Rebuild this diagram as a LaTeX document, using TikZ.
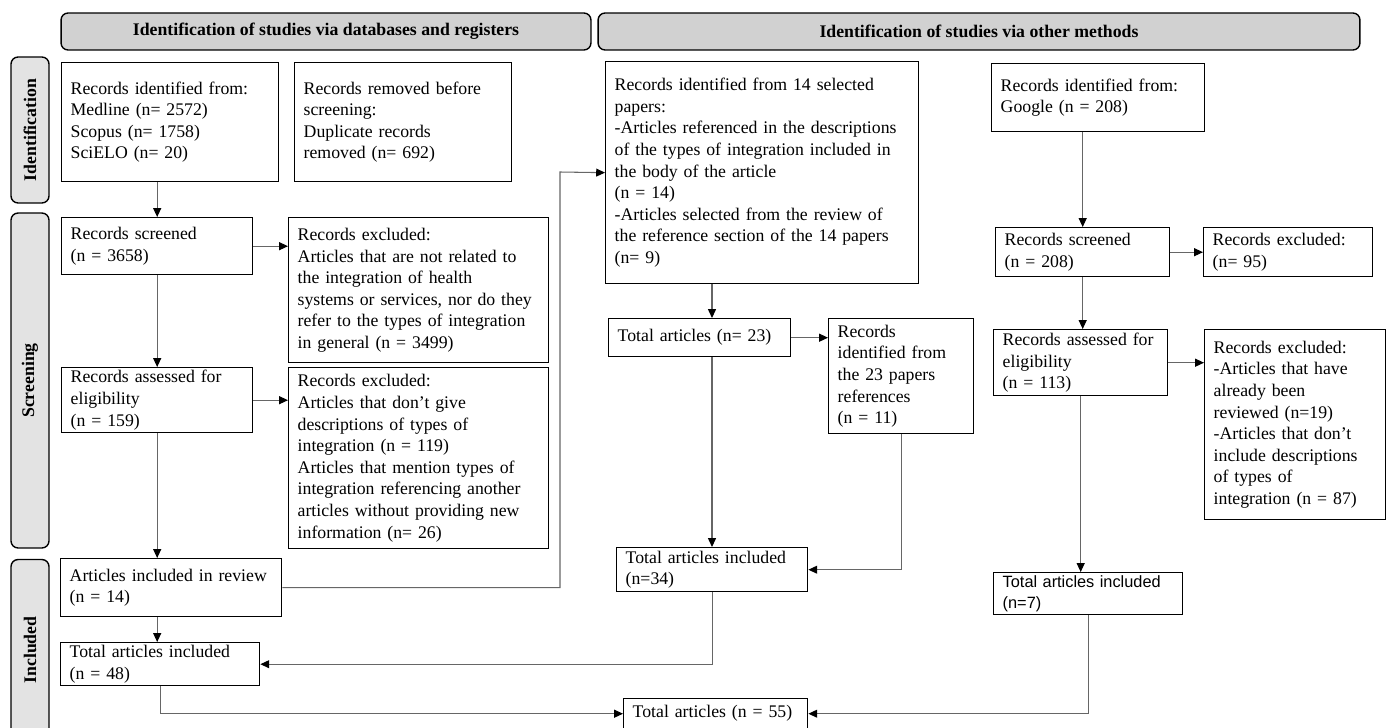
\documentclass[tikz,border=0pt]{standalone}
\usepackage{fontspec}
\setmainfont{Liberation Serif}
\newfontfamily\arialfont{Liberation Sans}
\usetikzlibrary{arrows.meta}

\newcommand{\boxfont}{\fontsize{10.1}{12.3}\selectfont}

\tikzset{
  rec/.style={draw, line width=0.8pt, anchor=north west, align=left, inner xsep=0.18cm, inner ysep=0pt, font=\boxfont},
  hdr/.style={draw, line width=0.8pt, rounded corners=4pt, fill=black!18, font=\boxfont\bfseries, inner sep=0pt, minimum height=0.74cm},
  side/.style={draw, line width=0.8pt, rounded corners=4pt, fill=black!11, font=\boxfont\bfseries, rotate=90, inner sep=0pt, minimum height=0.76cm},
  arr/.style={draw=black!60, line width=0.6pt, -{Triangle[length=5pt,width=4.5pt,color=black]}}
}

\begin{document}
\begin{tikzpicture}[x=0.02cm, y=-0.02cm]
    \useasboundingbox (0,0) rectangle (1392,727);

    % the headers and the phases
    \node[hdr, minimum width=10.6cm] (hd1) at (326,31.5) {Identification of studies via databases and registers};
    \node[hdr, minimum width=15.24cm] (hd2) at (979,31.5) {Identification of studies via other methods};
    \node[side, minimum width=2.92cm] (s1) at (30,130) {Identification};
    \node[side, minimum width=6.70cm] (s2) at (30,380.5) {Screening};
    \node[side, minimum width=3.62cm] (s3) at (30,650) {Included};

    % databases and registers
    \node[rec, text width=3.98cm, minimum height=2.38cm] (a1) at (61,62) {Records identified from:\\Medline (n= 2572)\\Scopus (n= 1758)\\SciELO (n= 20)};
    \node[rec, text width=3.98cm, minimum height=2.38cm] (a2) at (294,62) {Records removed before\\screening:\\Duplicate records\\removed (n= 692)};
    \node[rec, text width=3.46cm, minimum height=1.14cm] (b1) at (61,217) {Records screened\\(n = 3658)};
    \node[rec, text width=4.84cm, minimum height=2.90cm] (b2) at (288,217) {Records excluded:\\Articles that are not related to\\the integration of health\\systems or services, nor do they\\refer to the types of integration\\in general (n = 3499)};
    \node[rec, text width=3.46cm, minimum height=1.30cm] (c1) at (61,367) {Records assessed for\\eligibility\\(n = 159)};
    \node[rec, text width=4.84cm, minimum height=3.62cm] (c2) at (288,367) {Records excluded:\\Articles that don’t give\\descriptions of types of\\integration (n = 119)\\Articles that mention types of\\integration referencing another\\articles without providing new\\information (n= 26)};
    \node[rec, text width=4.06cm, minimum height=1.16cm] (d1) at (60,558) {Articles included in review\\(n = 14)};
    \node[rec, text width=3.62cm, minimum height=0.86cm] (h1) at (60,642) {Total articles included\\(n = 48)};

    % other methods: selected papers
    \node[rec, text width=5.90cm, minimum height=4.44cm] (e1) at (605,61) {Records identified from 14 selected\\papers:\\-Articles referenced in the descriptions\\of the types of integration included in\\the body of the article\\(n = 14)\\-Articles selected from the review of\\the reference section of the 14 papers\\(n= 9)};
    \node[rec, text width=3.28cm, minimum height=0.76cm] (f1) at (608,318) {Total articles (n= 23)};
    \node[rec, text width=2.54cm, minimum height=2.30cm] (f2) at (828,318) {Records\\identified from\\the 23 papers\\references\\(n = 11)};
    \node[rec, text width=3.46cm, minimum height=0.88cm] (g1) at (616,547) {Total articles included\\(n=34)};
    \node[rec, text width=3.32cm, minimum height=0.60cm] (t) at (623,698) {Total articles (n = 55)};

    % other methods: google
    \node[rec, text width=3.90cm, minimum height=1.36cm] (r1) at (991,63) {Records identified from:\\Google (n = 208)};
    \node[rec, text width=3.12cm, minimum height=0.98cm] (r2) at (995,227) {Records screened\\(n = 208)};
    \node[rec, text width=3.02cm, minimum height=0.98cm] (r3) at (1203,227) {Records excluded:\\(n= 95)};
    \node[rec, text width=3.12cm, minimum height=1.32cm] (r4) at (993,329) {Records assessed for\\eligibility\\(n = 113)};
    \node[rec, text width=3.26cm, minimum height=3.80cm] (r5) at (1204,329) {Records excluded:\\-Articles that have\\already been\\reviewed (n=19)\\-Articles that don’t\\include descriptions\\of types of\\integration (n = 87)};
    \node[rec, text width=3.42cm, minimum height=0.84cm, font=\arialfont\fontsize{9.3}{12.3}\selectfont] (j1) at (993,572) {Total articles included\\(n=7)};

    % bends of the long arrows
    \coordinate (k1) at (560,172);
    \coordinate (k2) at (712,0);

    % draw the arrows
    \draw[arr] (a1.south -| b1.north) -- (b1.north);
    \draw[arr] (b1.east) -- (b1.east -| b2.west);
    \draw[arr] (b1.south) -- (c1.north);
    \draw[arr] (c1.east) -- (c1.east -| c2.west);
    \draw[arr] (c1.south) -- (c1.south |- d1.north);
    \draw[arr] (d1.south -| c1.south) -- (h1.north -| c1.south);
    \draw[arr] (d1.east) -| (k1) -- (e1.west);
    \draw[arr] (e1.south -| k2) -- (f1.north -| k2);
    \draw[arr] (f1.east) -- (f1.east -| f2.west);
    \draw[arr] (f1.south -| k2) -- (g1.north -| k2);
    \draw[arr] (f2.south) |- (g1.east);
    \draw[arr] (g1.south) |- (h1.east);
    \draw[arr] (h1.south) |- (t.west);
    \draw[arr] (j1.south) |- (t.east);
    \draw[arr] (r1.south -| r2.north) -- (r2.north);
    \draw[arr] (r2.east) -- (r3.west);
    \draw[arr] (r2.south) -- (r2.south |- r4.north);
    \draw[arr] (r4.east) -- (r4.east -| r5.west);
    \draw[arr] (r4.south) -- (r4.south |- j1.north);
\end{tikzpicture}
\end{document}
